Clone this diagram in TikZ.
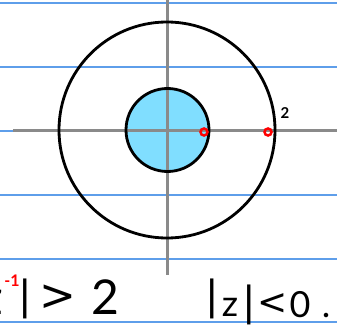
\documentclass[tikz,border=0pt]{standalone}
\usepackage{fontspec}
\setmainfont{Lato}
\newfontfamily\symfont{DejaVu Sans}
\begin{document}
\begin{tikzpicture}[x=1pt,y=-1pt,
  ruled/.style={draw=rulecol,line width=1.3pt},
  axisline/.style={draw=axiscol,line width=3pt},
  ring/.style={draw=black,line width=2.8pt},
  mark red/.style={draw=red,line width=2.5pt,circle,inner sep=0pt,minimum size=7pt},
  bigtxt/.style={inner sep=0pt,font=\fontsize{48}{48}\selectfont},
  midtxt/.style={inner sep=0pt,font=\fontsize{36}{36}\selectfont},
  symtxt/.style={inner sep=0pt,font=\symfont\fontsize{40}{40}\selectfont},
]
\definecolor{rulecol}{HTML}{5E9EEA}
\definecolor{axiscol}{HTML}{8A8A8A}
\definecolor{fillcol}{HTML}{80DEFF}
\useasboundingbox (0,0) rectangle (337,326);
\fill[white] (0,0) rectangle (337,326);
% ruled lines
\foreach \yy in {3,67,131,195,259,322} \draw[ruled] (0,\yy) -- (337,\yy);
% inner disc
\coordinate (O) at (167.5,130);
\fill[fillcol] (O) circle[radius=41];
% axes
\coordinate (axL) at (13,130);
\coordinate (axR) at (337,130);
\coordinate (axT) at (167,0);
\coordinate (axB) at (167,275);
\draw[axisline] (axL) -- (axR);
\draw[axisline] (axT) -- (axB);
% circles
\draw[ring] (O) circle[radius=41.5];
\draw[ring] (167,130) circle[radius=108];
% red marks
\node[mark red] (m1) at (204,132) {};
\node[mark red] (m2) at (268,132) {};
\node[inner sep=0pt,font=\bfseries\fontsize{15}{15}\selectfont] (two) at (285,113) {2};
% left text
\node[bigtxt,anchor=east] (lz) at (3,302) {z};
\node[inner sep=0pt,text=red,font=\bfseries\fontsize{16}{16}\selectfont] (lsup) at (12,281) {-1};
\node[symtxt] (lbar) at (25,299) {|};
\node[symtxt,font=\symfont\fontsize{44}{44}\selectfont] (lgt) at (58,298) {>};
\node[bigtxt] (l2) at (105,297) {2};
% right text
\node[symtxt] (rbar1) at (212,299) {|};
\node[inner sep=0pt,font=\fontsize{36}{36}\selectfont] (rz) at (230,307) {z};
\node[symtxt] (rbar2) at (249,305) {|};
\node[symtxt,font=\symfont\fontsize{36}{36}\selectfont] (rlt) at (273,304) {<};
\node[midtxt] (r0) at (300,305) {0};
\node[midtxt] (rdot) at (326,316) {.};
\end{tikzpicture}
\end{document}
